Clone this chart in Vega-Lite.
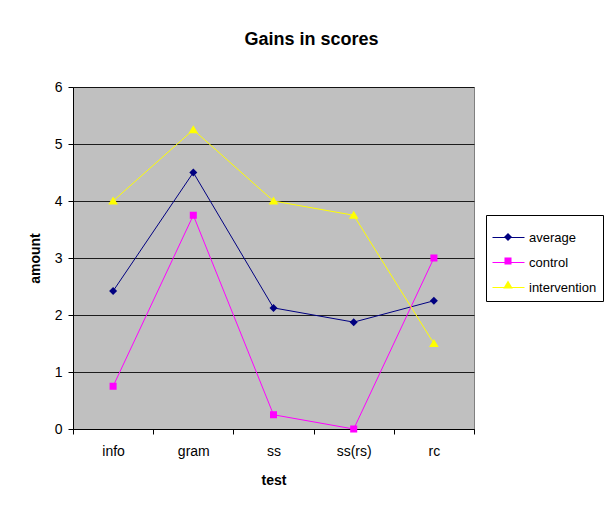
{
  "$schema": "https://vega.github.io/schema/vega-lite/v6.json",
  "width": 401,
  "height": 342,
  "autosize": "none",
  "padding": {"left": 73, "top": 87, "right": 134, "bottom": 76},
  "background": "white",
  "title": {
    "text": "Gains in scores",
    "font": "Liberation Sans",
    "fontSize": 18,
    "fontWeight": "bold",
    "color": "black",
    "anchor": "middle",
    "baseline": "alphabetic",
    "offset": 41,
    "dx": 38,
    "dy": 24
  },
  "config": {
    "font": "Liberation Sans",
    "view": {"fill": "#C0C0C0", "stroke": "#808080", "strokeWidth": 1}
  },
  "data": {
    "values": [
      {"series": "average", "marker": "average", "test": "info", "amount": 2.42},
      {"series": "average", "marker": "average", "test": "gram", "amount": 4.5},
      {"series": "average", "marker": "average", "test": "ss", "amount": 2.125},
      {"series": "average", "marker": "average", "test": "ss(rs)", "amount": 1.875},
      {"series": "average", "marker": "average", "test": "rc", "amount": 2.25},
      {"series": "control", "marker": "control", "test": "info", "amount": 0.75},
      {"series": "control", "marker": "control", "test": "gram", "amount": 3.75},
      {"series": "control", "marker": "control", "test": "ss", "amount": 0.25},
      {"series": "control", "marker": "control", "test": "ss(rs)", "amount": 0},
      {"series": "control", "marker": "control", "test": "rc", "amount": 3},
      {"series": "intervention", "marker": "intervention", "test": "info", "amount": 4},
      {"series": "intervention", "marker": "intervention", "test": "gram", "amount": 5.25},
      {"series": "intervention", "marker": "intervention", "test": "ss", "amount": 4},
      {"series": "intervention", "marker": "intervention", "test": "ss(rs)", "amount": 3.75},
      {"series": "intervention", "marker": "intervention", "test": "rc", "amount": 1.5}
    ]
  },
  "encoding": {
    "x": {
      "field": "test",
      "type": "nominal",
      "sort": ["info", "gram", "ss", "ss(rs)", "rc"],
      "scale": {"type": "band", "paddingInner": 0, "paddingOuter": 0},
      "bandPosition": 0.5,
      "axis": {
        "title": "test",
        "titleFontSize": 14,
        "titleFontWeight": "bold",
        "titleColor": "black",
        "titlePadding": 15,
        "labelAngle": 0,
        "labelFontSize": 14,
        "labelColor": "black",
        "labelPadding": 10,
        "tickBand": "extent",
        "tickSize": 5,
        "tickColor": "black",
        "domainColor": "black",
        "grid": false
      }
    },
    "y": {
      "field": "amount",
      "type": "quantitative",
      "scale": {"domain": [0, 6], "nice": false},
      "axis": {
        "title": "amount",
        "titleFontSize": 14,
        "titleFontWeight": "bold",
        "titleColor": "black",
        "titlePadding": 12,
        "values": [0, 1, 2, 3, 4, 5, 6],
        "labelFontSize": 14,
        "labelColor": "black",
        "labelPadding": 6,
        "tickSize": 5,
        "tickColor": "black",
        "domainColor": "black",
        "grid": true,
        "gridColor": "black",
        "gridOpacity": 0.85
      }
    }
  },
  "layer": [
    {
      "mark": {"type": "line", "strokeWidth": 1},
      "encoding": {
        "color": {
          "field": "series",
          "type": "nominal",
          "scale": {
            "domain": ["average", "control", "intervention"],
            "range": ["#000080", "#FF00FF", "#FFFF00"]
          },
          "legend": {
            "title": null,
            "orient": "none",
            "legendX": 413,
            "legendY": 128,
            "padding": 6,
            "strokeColor": "black",
            "labelFontSize": 13,
            "labelColor": "black",
            "labelOffset": 4,
            "symbolType": "stroke",
            "symbolSize": 1024,
            "symbolStrokeWidth": 1,
            "symbolOpacity": 1,
            "rowPadding": 1
          }
        }
      }
    },
    {
      "mark": {"type": "point", "filled": true, "opacity": 1, "size": 1024},
      "encoding": {
        "fill": {
          "field": "marker",
          "type": "nominal",
          "scale": {
            "range": ["#000080", "#FF00FF", "#FFFF00"]
          },
          "legend": {
            "title": null,
            "orient": "none",
            "legendX": 413,
            "legendY": 128,
            "padding": 6,
            "strokeColor": "transparent",
            "labelFontSize": 13,
            "labelOpacity": 0,
            "labelOffset": 4,
            "symbolSize": 1024,
            "symbolStrokeWidth": 0,
            "symbolOpacity": 1,
            "rowPadding": 1
          }
        },
        "shape": {
          "field": "marker",
          "type": "nominal",
          "scale": {
            "range": [
              "M0,-0.25L0.25,0L0,0.25L-0.25,0Z",
              "M-0.22,-0.22H0.22V0.22H-0.22Z",
              "M0,-0.28L0.3,0.22H-0.3Z"
            ]
          },
          "legend": {
            "title": null,
            "orient": "none",
            "legendX": 413,
            "legendY": 128,
            "padding": 6,
            "strokeColor": "transparent",
            "labelFontSize": 13,
            "labelOpacity": 0,
            "labelOffset": 4,
            "symbolSize": 1024,
            "symbolStrokeWidth": 0,
            "symbolOpacity": 1,
            "rowPadding": 1
          }
        }
      }
    }
  ]
}
